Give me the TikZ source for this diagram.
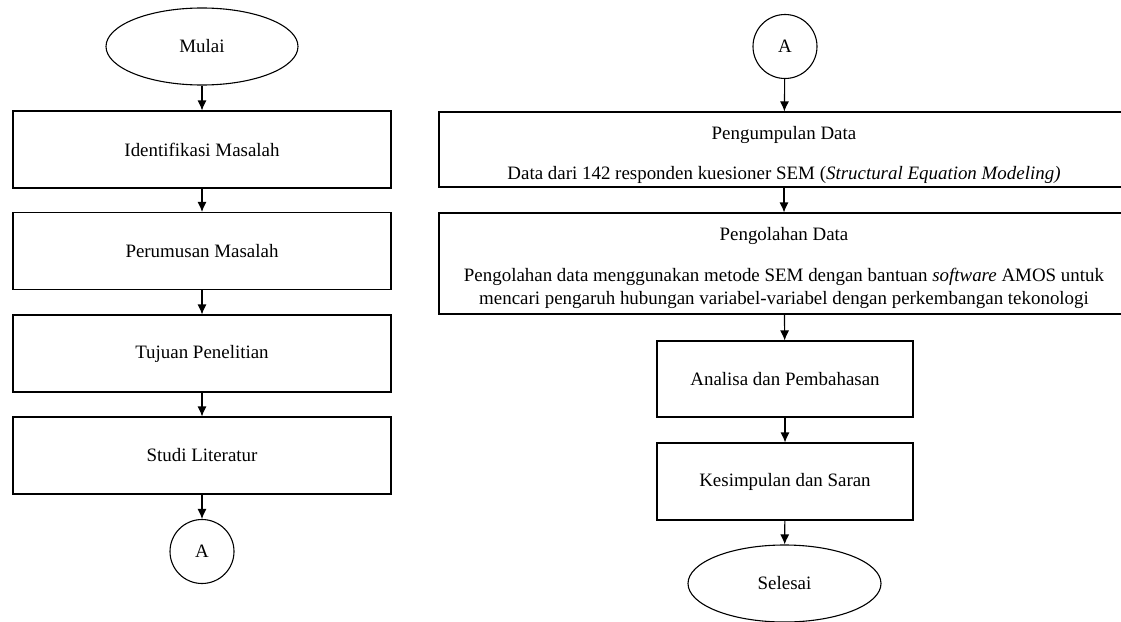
\documentclass[tikz,border=0pt]{standalone}
\usepackage{fontspec}
\setmainfont{Liberation Serif}
\usetikzlibrary{arrows.meta,shapes.geometric}

\begin{document}
\begin{tikzpicture}[>={Latex[length=10bp,width=9bp]}, line width=1.1bp,
	font=\fontsize{19}{23}\selectfont,
	proses/.style={draw, rectangle, inner sep=0bp, minimum height=77bp, align=center},
	terminal/.style={draw, ellipse, inner sep=0bp, minimum width=192bp, minimum height=77bp},
	konektor/.style={draw, circle, inner sep=0bp, minimum size=64bp}]
	\useasboundingbox (0bp,0bp) rectangle (1121bp,-622bp);

	% kolom kiri
	\node (mulai) at (202bp,-46.5bp) [terminal] {Mulai};
	\node (identifikasi) at (202bp,-149.5bp) [proses, minimum width=378bp] {Identifikasi Masalah};
	\node (perumusan) at (202bp,-251bp) [proses, minimum width=378bp] {Perumusan Masalah};
	\node (tujuan) at (202bp,-353.5bp) [proses, minimum width=378bp] {Tujuan Penelitian};
	\node (studi) at (202bp,-455.5bp) [proses, minimum width=378bp] {Studi Literatur};
	\node (a1) at (202bp,-551.5bp) [konektor] {A};

	% kolom kanan
	\node (a2) at (785bp,-46.5bp) [konektor] {A};
	\node (pengumpulan) at (784bp,-149.5bp) [proses, minimum width=690bp, minimum height=75bp] {\rule{0pt}{24bp}Pengumpulan Data\\[18bp]
		Data dari 142 responden kuesioner SEM (\textit{Structural Equation Modeling)}};
	\node (pengolahan) at (784bp,-263.5bp) [proses, minimum width=690bp, minimum height=101bp] {\rule{0pt}{22bp}Pengolahan Data\\[19bp]
		Pengolahan data menggunakan metode SEM dengan bantuan \textit{software} AMOS untuk\\
		mencari pengaruh hubungan variabel-variabel dengan perkembangan tekonologi};
	\node (analisa) at (785bp,-379bp) [proses, minimum width=256bp, minimum height=76bp] {Analisa dan Pembahasan};
	\node (kesimpulan) at (785bp,-481.5bp) [proses, minimum width=256bp] {Kesimpulan dan Saran};
	\node (selesai) at (784.5bp,-583.5bp) [terminal, minimum width=193bp] {Selesai};

	\draw [->] (mulai) to (identifikasi);
	\draw [->] (identifikasi) to (perumusan);
	\draw [->] (perumusan) to (tujuan);
	\draw [->] (tujuan) to (studi);
	\draw [->] (studi) to (a1);

	\draw [->] (a2) to (pengumpulan);
	\draw [->] (pengumpulan) to (pengolahan);
	\draw [->] (pengolahan) to (analisa);
	\draw [->] (analisa) to (kesimpulan);
	\draw [->] (kesimpulan) to (selesai);

\end{tikzpicture}
\end{document}
